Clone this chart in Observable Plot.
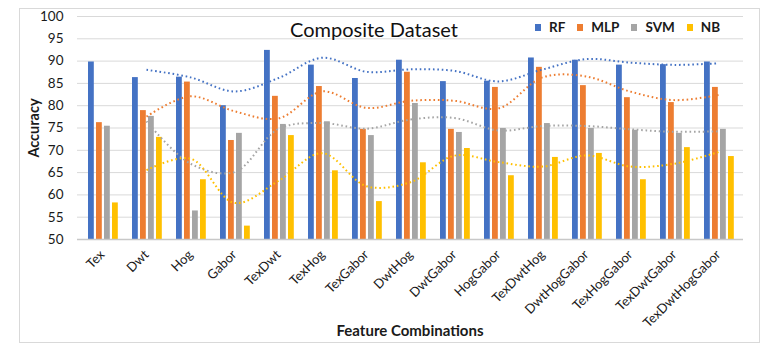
<!DOCTYPE html>
<html><head><meta charset="utf-8">
<script src="https://cdn.jsdelivr.net/npm/d3@7"></script>
<script src="https://cdn.jsdelivr.net/npm/@observablehq/plot@0.6"></script>
<style>
body{margin:0;background:#fff;}
#wrap{position:relative;width:784px;height:358px;font-family:Lato,"Open Sans",sans-serif;color:#1a1a1a;overflow:hidden;}
#frame{position:absolute;left:19px;top:8px;width:741px;height:335px;border:1.5px solid #d9d9d9;box-sizing:border-box;}
#plot{position:absolute;left:0;top:0;}
#title{position:absolute;left:0;width:748px;top:17px;text-align:center;font-size:20px;color:#111;}
#legend{position:absolute;left:535px;top:19px;display:flex;gap:0;font-weight:bold;font-size:13.5px;}
#legend .it{display:flex;align-items:center;margin-right:12px;}
#legend .sw{width:6px;height:7px;margin-right:8px;}
#ylab{position:absolute;left:33px;top:128px;transform:translate(-50%,-50%) rotate(-90deg);font-weight:bold;font-size:14.5px;white-space:nowrap;}
#xlab{position:absolute;left:410px;top:330px;transform:translate(-50%,-50%);font-weight:bold;font-size:15px;white-space:nowrap;}
</style></head>
<body>
<div id="wrap">
  <div id="frame"></div>
  <div id="plot"></div>
  <div id="title">Composite Dataset</div>
  <div id="legend"></div>
  <div id="ylab">Accuracy</div>
  <div id="xlab">Feature Combinations</div>
</div>
<script>
const categories = ["Tex","Dwt","Hog","Gabor","TexDwt","TexHog","TexGabor","DwtHog","DwtGabor","HogGabor","TexDwtHog","DwtHogGabor","TexHogGabor","TexDwtGabor","TexDwtHogGabor"];
const rf  = [89.8,86.3,86.4,80.0,92.4,89.1,86.1,90.2,85.4,85.5,90.7,90.2,89.1,89.2,89.8];
const mlp = [76.2,78.9,85.3,72.2,82.1,84.3,74.7,87.5,74.7,84.1,88.6,84.5,81.8,80.7,84.1];
const svm = [75.4,77.6,56.4,73.8,75.8,76.4,73.3,80.5,74.0,74.9,76.0,74.9,74.5,73.8,74.7];
const nb  = [58.2,72.9,63.4,53.0,73.3,65.4,58.5,67.2,70.4,64.3,68.4,69.3,63.4,70.6,68.6];
const seriesNames = ["RF","MLP","SVM","NB"];
const seriesColors = ["#4472C4","#ED7D31","#A5A5A5","#FFC000"];
const yTicks = [50,55,60,65,70,75,80,85,90,95,100];

const vals = [rf, mlp, svm, nb];
const data = categories.map((c, i) => {
  const o = {cat: c};
  seriesNames.forEach((s, j) => o[s] = vals[j][i]);
  return o;
});

const W = 784, H = 358, mL = 77, mR = 41, mT = 16, mB = 119;
const bw = (W - mL - mR) / categories.length;
const barW = 6.2, step = 8, off0 = 8;

const marks = [
  Plot.ruleY(yTicks.filter(t => t > 50), {stroke: "#d9d9d9", strokeWidth: 1}),
];
seriesNames.forEach((s, i) => {
  const l = off0 + step * i;
  marks.push(Plot.barY(data, {x: "cat", y1: 50, y2: s, fill: seriesColors[i], insetLeft: l, insetRight: bw - l - barW}));
});
marks.push(Plot.ruleY([50], {stroke: "#c8c8c8", strokeWidth: 1.5}));
seriesNames.forEach((s, i) => {
  marks.push(Plot.lineY(data, Plot.windowY({k: 2, anchor: "end", strict: true},
    {x: "cat", y: s, stroke: seriesColors[i], strokeWidth: 2, strokeDasharray: "1.6 2.8", strokeLinecap: "butt", curve: "catmull-rom"})));
});
marks.push(Plot.axisY({ticks: yTicks, tickSize: 0, tickPadding: 14, fontSize: 13.5, label: null, tickFormat: d => d}));
marks.push(Plot.axisX({tickSize: 0, tickRotate: -45, tickPadding: 13, fontSize: 13, label: null}));

const chart = Plot.plot({
  width: W, height: H,
  marginLeft: mL, marginRight: mR, marginTop: mT, marginBottom: mB,
  style: {background: "transparent", color: "#1a1a1a", fontFamily: "Lato, 'Open Sans', sans-serif"},
  x: {type: "band", domain: categories, padding: 0, axis: null},
  y: {domain: [50, 100], axis: null},
  marks
});
document.getElementById("plot").appendChild(chart);

const leg = document.getElementById("legend");
seriesNames.forEach((s, i) => {
  const it = document.createElement("div");
  it.className = "it";
  const sw = document.createElement("span");
  sw.className = "sw";
  sw.style.background = seriesColors[i];
  const t = document.createElement("span");
  t.textContent = s;
  it.appendChild(sw); it.appendChild(t);
  leg.appendChild(it);
});
</script>
</body></html>
